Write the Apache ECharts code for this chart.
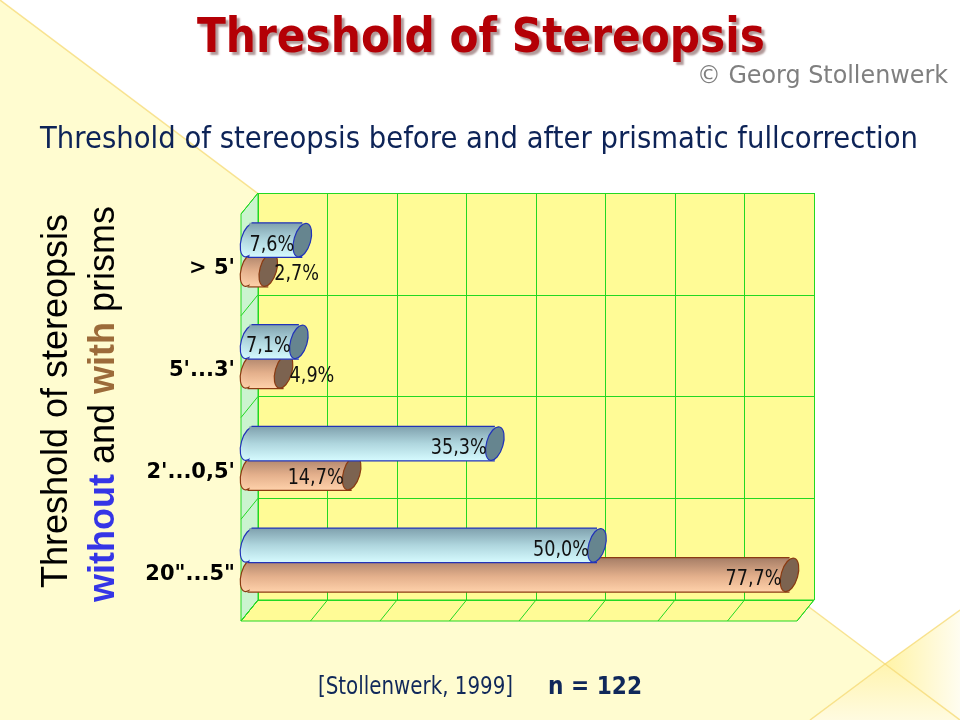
<!DOCTYPE html>
<html>
<head>
<meta charset="utf-8">
<script src="https://cdn.jsdelivr.net/npm/echarts@6/dist/echarts.min.js"></script>
<style>
  html, body { margin: 0; padding: 0; background: #fff; }
  #chart { width: 960px; height: 720px; }
</style>
</head>
<body>
<div id="chart"></div>
<script>
// --- data ---
const categories = ['20"...5"', "2'...0,5'", "5'...3'", "> 5'"];
const withoutPrisms = [50.0, 35.3, 7.1, 7.6];
const withPrisms = [77.7, 14.7, 4.9, 2.7];
const axisMin = 0, axisMax = 80, axisStep = 10;

// --- layout of the 3D box ---
const back = { left: 258, top: 193, width: 556, height: 407 };
const depthX = 17, depthY = 21; // offset from back wall to front edge
const mid = { left: back.left - depthX / 2, top: back.top + depthY / 2 };
const front = { left: back.left - depthX, top: back.top + depthY };

const GREEN = '#22d822';
const WALL_YELLOW = '#fffb96';
const SIDE_MINT = '#cbf4cf';

const measureCtx = document.createElement('canvas').getContext('2d');
function fitScale(text, font, target) {
  measureCtx.font = font;
  return target / measureCtx.measureText(text).width;
}

function cylinder(values, offset, look, z) {
  return {
    type: 'custom',
    xAxisIndex: 0,
    yAxisIndex: 0,
    z: z,
    clip: false,
    data: values.map((v, i) => [v, i]),
    renderItem(params, api) {
      const val = api.value(0);
      const cat = api.value(1);
      const band = api.size([0, 1])[1];
      const p0 = api.coord([0, cat]);
      const p1 = api.coord([val, cat]);
      const h = band * 0.34;
      const cy = p0[1] + band * offset;
      const top = cy - h / 2;
      const rx = h * 0.24;
      const tilt = -0.28;
      const body = new echarts.graphic.LinearGradient(0, 0, 0, 1, look.body);
      const len = p1[0] - p0[0];
      const label = val.toFixed(1).replace('.', ',') + '%';
      const inside = len > 45;
      const lblFont = '21px "DejaVu Sans"';
      return {
        type: 'group',
        children: [
          { type: 'ellipse', shape: { cx: p0[0], cy: cy, rx: rx, ry: h / 2 },
            rotation: tilt, originX: p0[0], originY: cy,
            style: { fill: body, stroke: look.border, lineWidth: 1.2 } },
          { type: 'rect', shape: { x: p0[0], y: top, width: len, height: h },
            style: { fill: body } },
          { type: 'line', shape: { x1: p0[0] + 2, y1: top, x2: p1[0], y2: top },
            style: { stroke: look.border, lineWidth: 1.2 } },
          { type: 'line', shape: { x1: p0[0] - 2, y1: top + h, x2: p1[0], y2: top + h },
            style: { stroke: look.border, lineWidth: 1.2 } },
          { type: 'ellipse', shape: { cx: p1[0], cy: cy, rx: rx, ry: h / 2 },
            rotation: tilt, originX: p1[0], originY: cy,
            style: { fill: look.cap, stroke: look.border, lineWidth: 1.2 } },
          { type: 'text', x: inside ? p1[0] - 8 : p1[0] + 6, y: cy + 5, scaleX: 0.84, z2: 10,
            style: { text: label, x: 0, y: 0, font: lblFont, fill: '#111',
              align: inside ? 'right' : 'left', textAlign: inside ? 'right' : 'left',
              verticalAlign: 'middle', textVerticalAlign: 'middle' } }
        ]
      };
    }
  };
}

const chart = echarts.init(document.getElementById('chart'));

chart.setOption({
  animation: false,
  grid: [
    { left: mid.left, top: mid.top, width: back.width, height: back.height },
    { left: back.left, top: back.top, width: back.width, height: back.height },
    { left: front.left, top: front.top + 4, width: back.width, height: back.height }
  ],
  xAxis: [
    { gridIndex: 0, type: 'value', min: axisMin, max: axisMax, interval: axisStep, show: false },
    { gridIndex: 1, type: 'value', min: axisMin, max: axisMax, interval: axisStep,
      axisLine: { show: false }, axisTick: { show: false }, axisLabel: { show: false },
      splitLine: { show: true, lineStyle: { color: GREEN, width: 1 } } },
    { gridIndex: 2, type: 'value', min: axisMin, max: axisMax, interval: axisStep, show: false }
  ],
  yAxis: [
    { gridIndex: 0, type: 'category', data: categories, show: false },
    { gridIndex: 1, type: 'category', data: categories,
      axisLine: { show: false }, axisTick: { show: false }, axisLabel: { show: false },
      splitLine: { show: true, lineStyle: { color: GREEN, width: 1 } } },
    { gridIndex: 2, type: 'category', data: categories,
      axisLine: { show: false }, axisTick: { show: false }, splitLine: { show: false },
      axisLabel: { margin: 6, color: '#000', fontWeight: 'bold', fontSize: 21,
        fontFamily: '"DejaVu Sans"' } }
  ],
  series: [
    cylinder(withPrisms, 0.15, {
      body: [{ offset: 0, color: '#a57d66' }, { offset: 0.55, color: '#e4b08c' }, { offset: 1, color: '#ffd2ab' }],
      cap: '#7c6350', border: '#8a3b12'
    }, 2),
    cylinder(withoutPrisms, -0.14, {
      body: [{ offset: 0, color: '#7fa0ad' }, { offset: 0.5, color: '#afd6de' }, { offset: 1, color: '#d6fbff' }],
      cap: '#66858f', border: '#2233b8'
    }, 3)
  ]
});

// --- decoration: background, walls, floor, texts ---
const bottom = back.top + back.height;
const right = back.left + back.width;
const gfx = [];

gfx.push({ type: 'rect', z: -100, shape: { x: 0, y: 0, width: 960, height: 720 }, style: { fill: '#fffcd0' } });
gfx.push({ type: 'polygon', z: -99, shape: { points: [[0, 0], [960, 0], [960, 610], [885, 664]] }, style: { fill: '#ffffff' } });
gfx.push({ type: 'polygon', z: -99, shape: { points: [[885, 664], [960, 610], [960, 720]] },
  style: { fill: new echarts.graphic.LinearGradient(0, 0, 1, 0, [{ offset: 0, color: '#fff3a6' }, { offset: 1, color: '#fffdf0' }]) } });
gfx.push({ type: 'polygon', z: -99, shape: { points: [[885, 664], [960, 720], [810, 720]] },
  style: { fill: new echarts.graphic.LinearGradient(0, 0, 0, 1, [{ offset: 0, color: '#fff4b0' }, { offset: 1, color: '#fffbe0' }]) } });
gfx.push({ type: 'polyline', z: -98, shape: { points: [[0, 0], [885, 664], [960, 720]] }, style: { stroke: 'rgba(245,215,110,0.7)', lineWidth: 1.5 } });
gfx.push({ type: 'polyline', z: -98, shape: { points: [[960, 610], [885, 664], [810, 720]] }, style: { stroke: 'rgba(245,215,110,0.7)', lineWidth: 1.5 } });

// back wall fill
gfx.push({ type: 'rect', z: -20, shape: { x: back.left, y: back.top, width: back.width, height: back.height }, style: { fill: WALL_YELLOW } });
// floor
gfx.push({ type: 'polygon', z: -20,
  shape: { points: [[back.left, bottom], [right, bottom], [right - depthX, bottom + depthY], [back.left - depthX, bottom + depthY]] },
  style: { fill: WALL_YELLOW, stroke: GREEN, lineWidth: 1 } });
for (let v = axisMin; v <= axisMax; v += axisStep) {
  const px = chart.convertToPixel({ xAxisIndex: 1 }, v);
  gfx.push({ type: 'line', z: -19, shape: { x1: px, y1: bottom, x2: px - depthX, y2: bottom + depthY }, style: { stroke: GREEN, lineWidth: 1 } });
}
// side wall
gfx.push({ type: 'polygon', z: -20,
  shape: { points: [[back.left - depthX, back.top + depthY], [back.left, back.top], [back.left, bottom], [back.left - depthX, bottom + depthY]] },
  style: { fill: SIDE_MINT, stroke: GREEN, lineWidth: 1 } });
const bandH = back.height / categories.length;
for (let k = 0; k <= categories.length; k++) {
  const y = back.top + k * bandH;
  gfx.push({ type: 'line', z: -19, shape: { x1: back.left, y1: y, x2: back.left - depthX, y2: y + depthY }, style: { stroke: GREEN, lineWidth: 1 } });
}

// titles
const titleFont = 'bold 46px "DejaVu Sans"';
const titleText = 'Threshold of Stereopsis';
gfx.push({ type: 'text', x: 197, y: 39, scaleX: fitScale(titleText, titleFont, 568), scaleY: 1.06, z: 10,
  style: { text: titleText, x: 0, y: 0, font: titleFont, fill: '#b40006', verticalAlign: 'middle', textVerticalAlign: 'middle',
    textShadowColor: 'rgba(60,0,0,0.4)', textShadowBlur: 2, textShadowOffsetX: 3, textShadowOffsetY: 3 } });

const copyFont = '24px "DejaVu Sans"';
const copyText = '\u00a9 Georg Stollenwerk';
gfx.push({ type: 'text', x: 697, y: 77, scaleX: fitScale(copyText, copyFont, 251), z: 10,
  style: { text: copyText, x: 0, y: 0, font: copyFont, fill: '#7f7f7f', verticalAlign: 'middle', textVerticalAlign: 'middle' } });

const subFont = '30px "DejaVu Sans"';
const subText = 'Threshold of stereopsis before and after prismatic fullcorrection';
gfx.push({ type: 'text', x: 40, y: 140, scaleX: fitScale(subText, subFont, 878), z: 10,
  style: { text: subText, x: 0, y: 0, font: subFont, fill: '#0d2357', verticalAlign: 'middle', textVerticalAlign: 'middle' } });

// vertical axis title (two lines)
gfx.push({ type: 'text', x: 57, y: 401, rotation: Math.PI / 2, z: 10,
  style: { text: 'Threshold of stereopsis', x: 0, y: 0, font: '36px "Liberation Sans"', fill: '#000',
    align: 'center', textAlign: 'center', verticalAlign: 'middle', textVerticalAlign: 'middle' } });
gfx.push({ type: 'text', x: 104, y: 404, rotation: Math.PI / 2, z: 10,
  style: { text: '{b|without} and {w|with} prisms', x: 0, y: 0, font: '36px "Liberation Sans"', fontSize: 36, fontFamily: 'Liberation Sans', fill: '#000',
    align: 'center', textAlign: 'center', verticalAlign: 'middle', textVerticalAlign: 'middle',
    rich: {
      b: { fontSize: 36, fontFamily: 'Liberation Sans', fontWeight: 'bold', fill: '#3535e6', color: '#3535e6' },
      w: { fontSize: 36, fontFamily: 'Liberation Sans', fontWeight: 'bold', fill: '#9c6b3a', color: '#9c6b3a' }
    } } });

// footer
const refFont = '24px "DejaVu Sans"';
const refText = '[Stollenwerk, 1999]';
gfx.push({ type: 'text', x: 318, y: 688, scaleX: fitScale(refText, refFont, 195), z: 10,
  style: { text: refText, x: 0, y: 0, font: refFont, fill: '#10285a', verticalAlign: 'middle', textVerticalAlign: 'middle' } });
const nFont = 'bold 24px "DejaVu Sans"';
const nText = 'n = 122';
gfx.push({ type: 'text', x: 548, y: 688, scaleX: fitScale(nText, nFont, 94), z: 10,
  style: { text: nText, x: 0, y: 0, font: nFont, fill: '#10285a', verticalAlign: 'middle', textVerticalAlign: 'middle' } });

chart.setOption({ graphic: gfx });

window.addEventListener('resize', () => chart.resize());
</script>
</body>
</html>
